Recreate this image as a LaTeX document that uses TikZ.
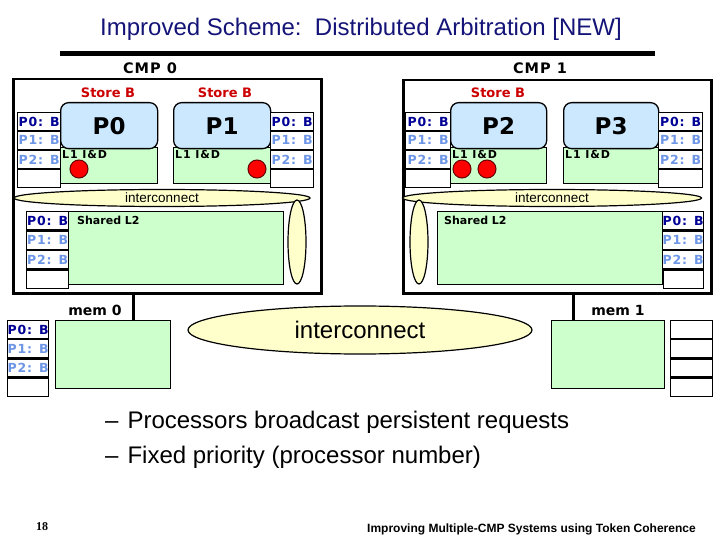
\documentclass[tikz,border=0pt]{standalone}
\usepackage{fontspec}
\setmainfont{Liberation Sans}
\newfontfamily\dvb{DejaVu Sans}
\newfontfamily\dvbs[LetterSpace=7]{DejaVu Sans}
\newfontfamily\dvbm[LetterSpace=8]{DejaVu Sans}
\newfontfamily\serifb{Liberation Serif}
\usetikzlibrary{shapes.geometric,calc}
\definecolor{titlec}{RGB}{20,20,120}
\definecolor{tokA}{RGB}{0,0,150}
\definecolor{tokB}{RGB}{110,150,230}
\definecolor{procb}{RGB}{204,232,255}
\definecolor{cacheg}{RGB}{204,255,204}
\definecolor{icy}{RGB}{255,255,204}
\definecolor{storer}{RGB}{204,0,0}
\newcommand\tokt[8]{%
 \node[tcell, minimum width=#4, minimum height=#5, anchor=north west, text=tokA] (#1a) at (#2,#3) {#6};
 \node[tcell, minimum width=#4, minimum height=#5, anchor=north, text=tokB] (#1b) at (#1a.south) {#7};
 \node[tcell, minimum width=#4, minimum height=#5, anchor=north, text=tokB] (#1c) at (#1b.south) {#8};
 \node[tcell, minimum width=#4, minimum height=#5, anchor=north] (#1d) at (#1c.south) {};
}
\begin{document}
\begin{tikzpicture}[x=1pt,y=-1pt,
 tcell/.style={draw, line width=1.2pt, fill=white, inner sep=0pt, font={\dvbs\bfseries\fontsize{12.5}{14}\selectfont}},
 cmp/.style={draw, line width=2.5pt, fill=white, inner sep=0pt, anchor=north west},
 cmplabel/.style={font={\dvbs\bfseries\fontsize{14.5}{16}\selectfont}},
 proc/.style={draw, line width=1.3pt, fill=procb, rounded corners=8pt, inner sep=0pt, anchor=north west, font={\dvb\bfseries\fontsize{23}{26}\selectfont}},
 l1/.style={draw, line width=1.3pt, fill=cacheg, inner sep=0pt, anchor=north west},
 l1txt/.style={anchor=north west, inner sep=1pt, font={\dvbm\bfseries\fontsize{11}{12}\selectfont}},
 tok/.style={circle, draw=black!60!red, fill=red, minimum size=18pt, inner sep=0pt, line width=1pt},
 store/.style={text=storer, font={\dvb\bfseries\fontsize{13}{15}\selectfont}},
 ic/.style={ellipse, draw, fill=icy, line width=1.2pt, inner sep=0pt},
 link/.style={line width=3pt},
 memlbl/.style={font={\dvb\bfseries\fontsize{14}{16}\selectfont}}
]
\useasboundingbox (0,0) rectangle (720,540);
% title
\node[font={\fontsize{24}{28}\selectfont}, text=titlec, anchor=base] (title) at (361,36) {Improved Scheme:\ \ Distributed Arbitration [NEW]};
\draw[line width=5pt] (60,54) -- (655,54);
% CMP boxes
\node[cmp, minimum width=308pt, minimum height=214pt] (cmp0) at (12,78) {};
\node[cmp, minimum width=308pt, minimum height=213pt] (cmp1) at (402,79) {};
\node[cmplabel] (cmp0l) at (150,68) {CMP 0};
\node[cmplabel] (cmp1l) at (540,68) {CMP 1};
% store labels
\node[store] (s0) at (108,93) {Store B};
\node[store] (s1) at (225,93) {Store B};
\node[store] (s2) at (498,93) {Store B};
% processors CMP0
\node[l1, minimum width=97pt, minimum height=36pt] (l10) at (60,147) {};
\node[proc, minimum width=97pt, minimum height=46pt] (p0) at (60,102) {P0};
\node[l1txt] (l10t) at ($(l10.north west)+(1,2)$) {L1 I\&D};
\node[l1, minimum width=97pt, minimum height=36pt] (l11) at (173,147) {};
\node[proc, minimum width=97pt, minimum height=46pt] (p1) at (173,102) {P1};
\node[l1txt] (l11t) at ($(l11.north west)+(1,2)$) {L1 I\&D};
% processors CMP1
\node[l1, minimum width=96pt, minimum height=36pt] (l12) at (450,147) {};
\node[proc, minimum width=96pt, minimum height=46pt] (p2) at (450,102) {P2};
\node[l1txt] (l12t) at ($(l12.north west)+(1,2)$) {L1 I\&D};
\node[l1, minimum width=95pt, minimum height=36pt] (l13) at (563,147) {};
\node[proc, minimum width=95pt, minimum height=46pt] (p3) at (563,102) {P3};
\node[l1txt] (l13t) at ($(l13.north west)+(1,2)$) {L1 I\&D};
% token tables at L1
\tokt{ta}{17}{112}{43pt}{17.75pt}{P0: B}{P1: B}{P2: B}
\tokt{tb}{270}{112}{43pt}{17.75pt}{P0: B}{P1: B}{P2: B}
\tokt{tc}{405}{112}{45pt}{17.75pt}{P0: B}{P1: B}{P2: B}
\tokt{td}{658}{112}{44pt}{17.75pt}{P0: B}{P1: B}{P2: B}
% red tokens
\node[tok] (r0) at (79,169) {};
\node[tok] (r1) at (257,169) {};
\node[tok] (r2) at (462,169) {};
\node[tok] (r3) at (487,169) {};
% interconnects inside CMPs
\node[ic, minimum width=296pt, minimum height=17pt, font={\fontsize{13.5}{15}\selectfont}] (ic0) at (162,198) {interconnect};
\node[ic, minimum width=299pt, minimum height=17pt, font={\fontsize{13.5}{15}\selectfont}] (ic1) at (552,198) {interconnect};
\node[ic, minimum width=18pt, minimum height=84pt] (v0) at (297,242) {};
\node[ic, minimum width=18pt, minimum height=84pt] (v1) at (419,242) {};
% shared L2
\node[l1, minimum width=215pt, minimum height=73pt] (l20) at (68,211) {};
\node[l1txt, font={\dvb\bfseries\fontsize{11}{13}\selectfont}] (l20t) at ($(l20.north west)+(8,4)$) {Shared L2};
\tokt{te}{26}{211}{42pt}{18.25pt}{P0: B}{P1: B}{P2: B}
\node[l1, minimum width=225pt, minimum height=73pt] (l21) at (437,211) {};
\node[l1txt, font={\dvb\bfseries\fontsize{11}{13}\selectfont}] (l21t) at ($(l21.north west)+(6,4)$) {Shared L2};
\tokt{tf}{662}{211}{40pt}{18.25pt}{P0: B}{P1: B}{P2: B}
% memories
\node[l1, minimum width=115pt, minimum height=68pt] (mem0) at (55,320) {};
\node[l1, minimum width=113pt, minimum height=68pt] (mem1) at (551,320) {};
\tokt{tg}{7}{320}{41pt}{18pt}{P0: B}{P1: B}{P2: B}
\tokt{th}{670}{320}{42pt}{18pt}{}{}{}
\node[memlbl] (mem0l) at (95,310) {mem 0};
\node[memlbl] (mem1l) at (618,310) {mem 1};
\coordinate (m0t) at ($(mem0.north west)+(78,0)$);
\coordinate (m1t) at ($(mem1.north west)+(22,0)$);
\draw[link] (m0t) -- (m0t |- cmp0.south);
\draw[link] (m1t) -- (m1t |- cmp1.south);
% main interconnect
\node[ic, minimum width=344pt, minimum height=48pt, font={\fontsize{24}{28}\selectfont}] (icm) at (360,330) {interconnect};
% bullets
\node[anchor=base west, inner sep=0pt, font={\fontsize{24}{28}\selectfont}] (b1) at (105,428) {–\hspace{9pt}Processors broadcast persistent requests};
\node[anchor=base west, inner sep=0pt, font={\fontsize{24}{28}\selectfont}] (b2) at (105,463) {–\hspace{9pt}Fixed priority (processor number)};
% footer
\node[font={\serifb\bfseries\fontsize{12}{14}\selectfont}] (pg) at (42,527) {18};
\node[anchor=west, inner sep=0pt, font={\bfseries\fontsize{12}{14}\selectfont}] (foot) at (367,529) {Improving Multiple-CMP Systems using Token Coherence};
\end{tikzpicture}
\end{document}
